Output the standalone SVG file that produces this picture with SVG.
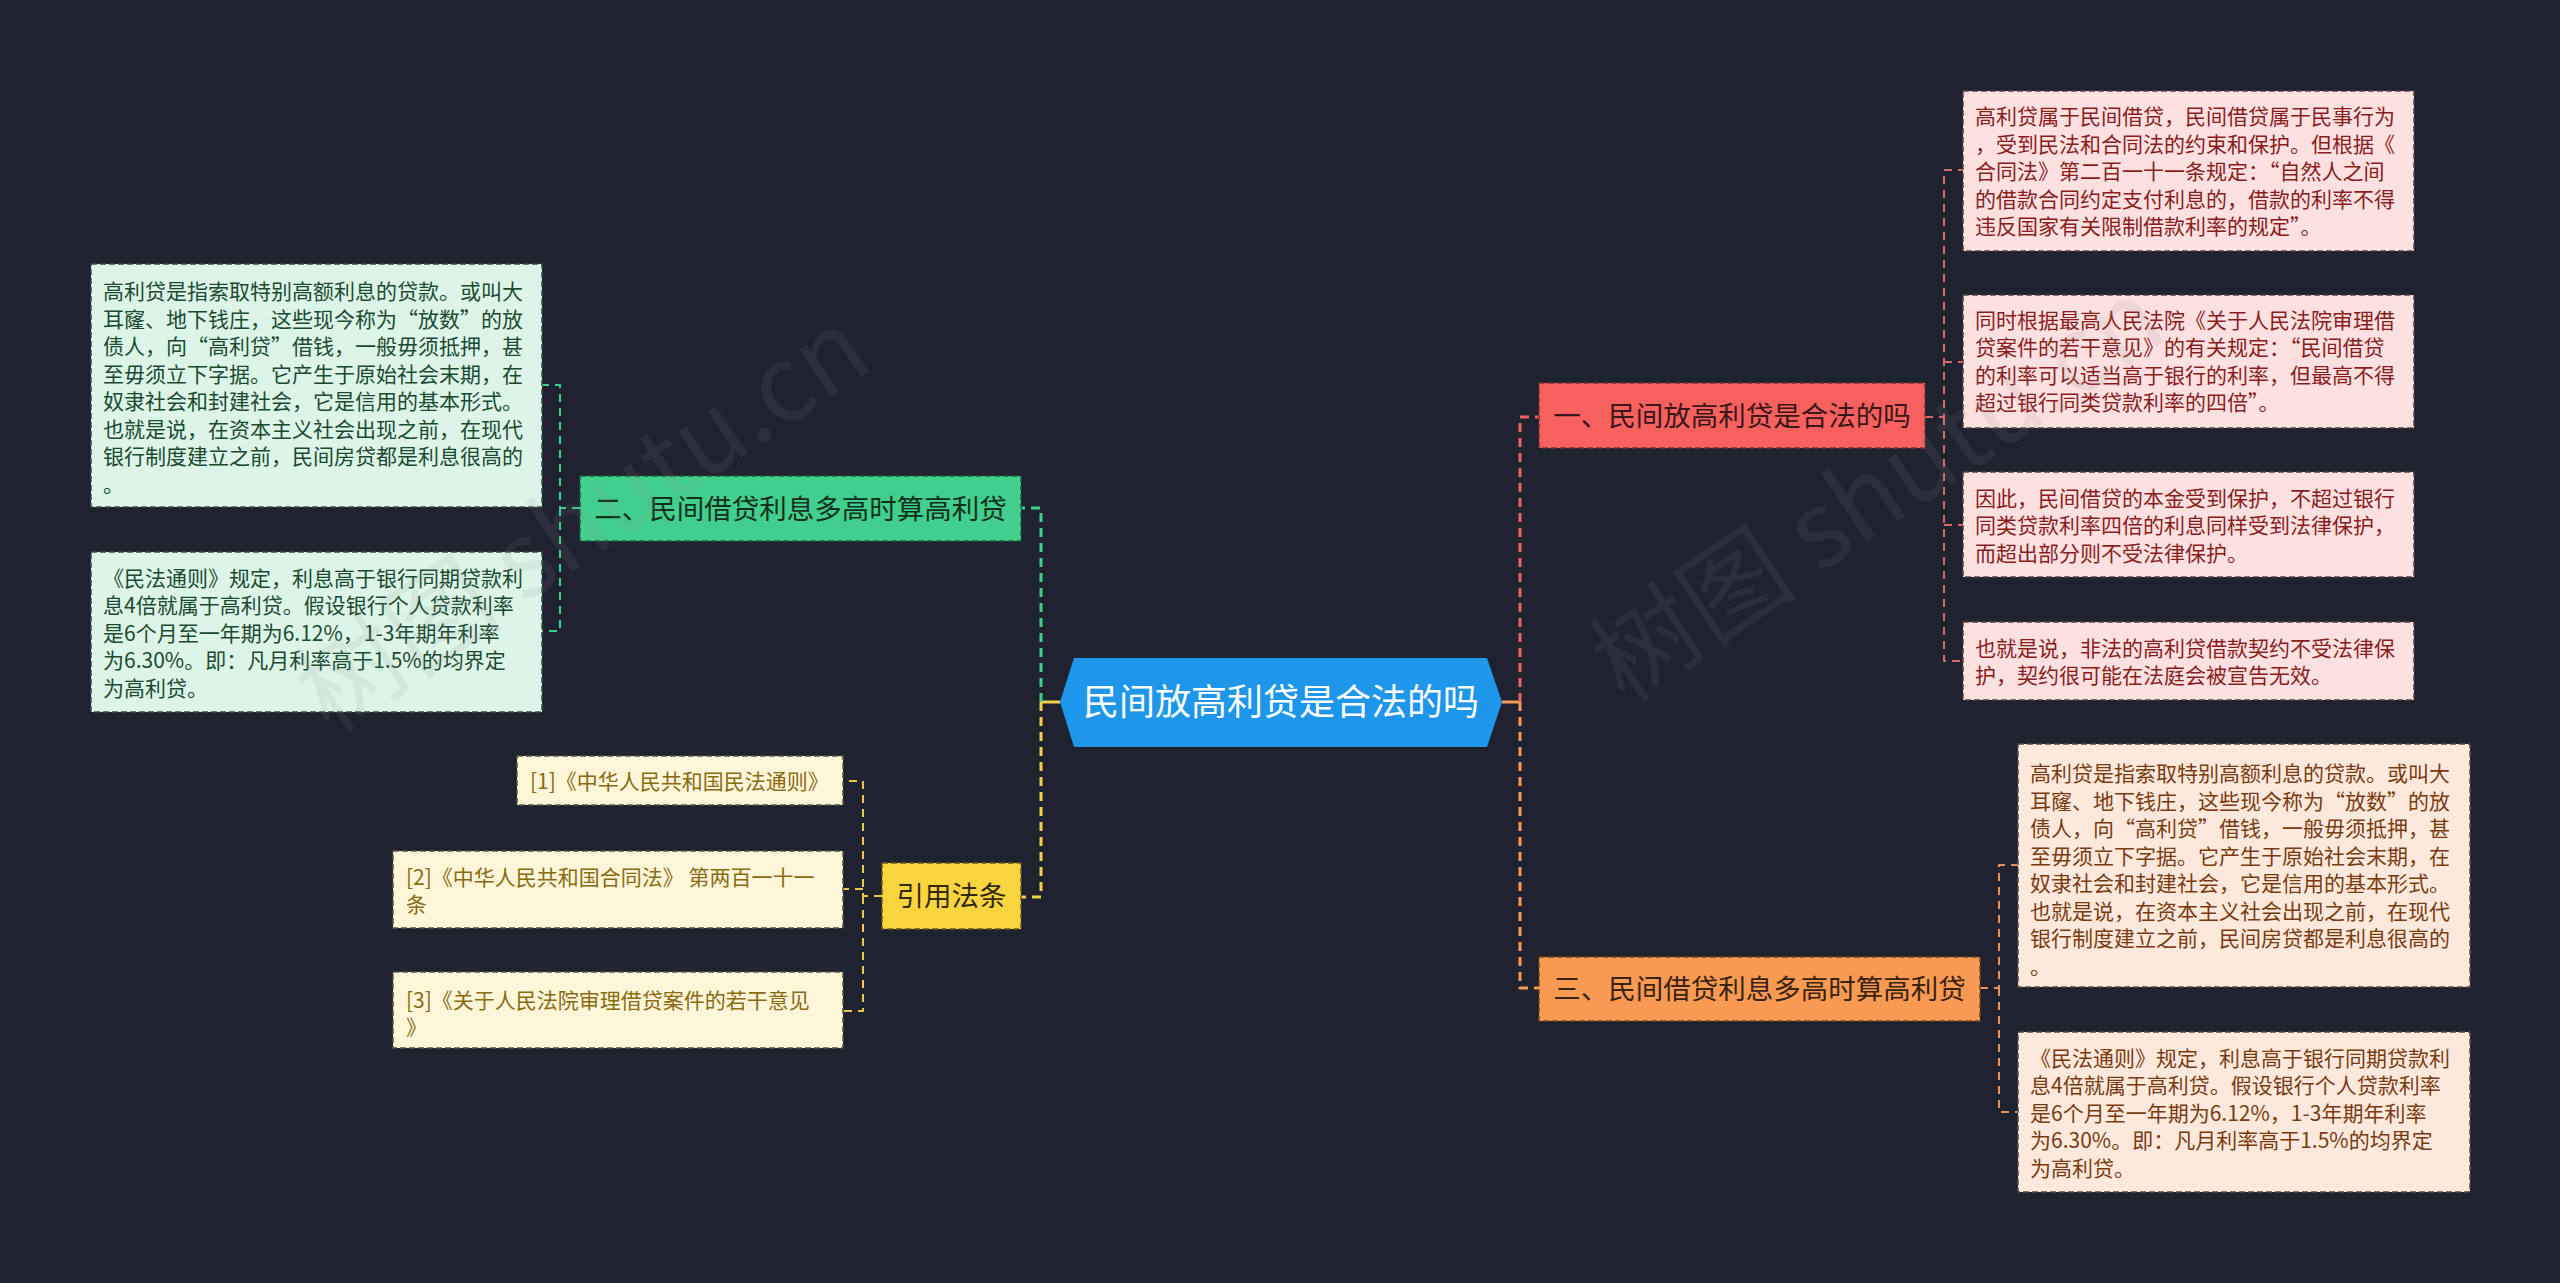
<svg xmlns="http://www.w3.org/2000/svg" width="2560" height="1283" viewBox="0 0 2560 1283">
<style>
text{font-family:"Noto Sans CJK SC","Noto Sans",sans-serif;}
.leaf{font-size:21px;}
.main{font-size:27.5px;}
.box{stroke-width:1.5;stroke-dasharray:6 3;}
.c{fill:none;stroke-linejoin:round;}
.cm{stroke-width:3;stroke-dasharray:9 6;}
.cl{stroke-width:2;stroke-dasharray:8 6;}
.wm{font-size:105px;fill:#8a8a8a;fill-opacity:0.12;}
</style>
<rect x="0" y="0" width="2560" height="1283" fill="#1f2330"/>
<g id="connectors">
<path class="c" d="M1502,702 H1520" stroke="#f79a52" stroke-width="3"/>
<path class="c cm" d="M1520,702 V417 H1539" stroke="#f06060"/>
<path class="c cm" d="M1520,702 V988 H1539" stroke="#f79a52"/>
<path class="c cl" d="M1925,417 H1944 V170 H1963" stroke="#d86a6a"/>
<path class="c cl" d="M1944,417 V661 H1963" stroke="#d86a6a"/>
<path class="c cl" d="M1944,362 H1963" stroke="#d86a6a"/>
<path class="c cl" d="M1944,525 H1963" stroke="#d86a6a"/>
<path class="c cl" d="M1980,988 H1999 V865 H2018" stroke="#e8925a"/>
<path class="c cl" d="M1999,988 V1112 H2018" stroke="#e8925a"/>
<path class="c" d="M1060,702 H1041" stroke="#f5d04a" stroke-width="3"/>
<path class="c cm" d="M1041,702 V508 H1021" stroke="#3ecf8e"/>
<path class="c cm" d="M1041,702 V897 H1021" stroke="#f5d04a"/>
<path class="c cl" d="M580,508 H560 V385 H542" stroke="#3ecf8e"/>
<path class="c cl" d="M560,508 V631 H542" stroke="#3ecf8e"/>
<path class="c cl" d="M882,896 H863 V781 H843" stroke="#e8c84a"/>
<path class="c cl" d="M863,896 V1011 H843" stroke="#e8c84a"/>
<path class="c cl" d="M863,889 H843" stroke="#e8c84a"/>
</g>
<g id="center">
<polygon points="1060,702 1074,658 1487,658 1502,702 1487,747 1074,747" fill="#1e96ea"/>
<text x="1281" y="715" font-size="36" fill="#ffffff" text-anchor="middle">民间放高利贷是合法的吗</text>
</g>
<g id="node1">
<rect class="box" x="1539" y="383" width="386" height="65" fill="#f66160" stroke="#7a3030"/>
<text class="main" x="1732" y="425.5" fill="#3a1616" text-anchor="middle">一、民间放高利贷是合法的吗</text>
</g>
<g id="leaf1a">
<rect class="box" x="1963" y="91" width="451" height="160" fill="#fde1e1" stroke="#5a4040"/>
<text class="leaf" fill="#8a1c1c"><tspan x="1975" y="124">高利贷属于民间借贷，民间借贷属于民事行为</tspan><tspan x="1975" y="151.5">，受到民法和合同法的约束和保护。但根据《</tspan><tspan x="1975" y="179">合同法》第二百一十一条规定：“自然人之间</tspan><tspan x="1975" y="206.5">的借款合同约定支付利息的，借款的利率不得</tspan><tspan x="1975" y="234">违反国家有关限制借款利率的规定”。</tspan></text>
</g>
<g id="leaf1b">
<rect class="box" x="1963" y="295" width="451" height="133" fill="#fde1e1" stroke="#5a4040"/>
<text class="leaf" fill="#8a1c1c"><tspan x="1975" y="327.5">同时根据最高人民法院《关于人民法院审理借</tspan><tspan x="1975" y="355">贷案件的若干意见》的有关规定：“民间借贷</tspan><tspan x="1975" y="382.5">的利率可以适当高于银行的利率，但最高不得</tspan><tspan x="1975" y="410">超过银行同类贷款利率的四倍”。</tspan></text>
</g>
<g id="leaf1c">
<rect class="box" x="1963" y="472" width="451" height="105" fill="#fde1e1" stroke="#5a4040"/>
<text class="leaf" fill="#8a1c1c"><tspan x="1975" y="505.5">因此，民间借贷的本金受到保护，不超过银行</tspan><tspan x="1975" y="533">同类贷款利率四倍的利息同样受到法律保护，</tspan><tspan x="1975" y="560.5">而超出部分则不受法律保护。</tspan></text>
</g>
<g id="leaf1d">
<rect class="box" x="1963" y="622" width="451" height="78" fill="#fde1e1" stroke="#5a4040"/>
<text class="leaf" fill="#8a1c1c"><tspan x="1975" y="655.5">也就是说，非法的高利贷借款契约不受法律保</tspan><tspan x="1975" y="683">护，契约很可能在法庭会被宣告无效。</tspan></text>
</g>
<g id="node3">
<rect class="box" x="1539" y="957" width="441" height="64" fill="#f99a52" stroke="#7a4a20"/>
<text class="main" x="1759.5" y="999" fill="#3a2210" text-anchor="middle">三、民间借贷利息多高时算高利贷</text>
</g>
<g id="leaf3a">
<rect class="box" x="2018" y="744" width="452" height="243" fill="#fde9dc" stroke="#5a4a40"/>
<text class="leaf" fill="#7a3a10"><tspan x="2030" y="781">高利贷是指索取特别高额利息的贷款。或叫大</tspan><tspan x="2030" y="808.5">耳窿、地下钱庄，这些现今称为“放数”的放</tspan><tspan x="2030" y="836">债人，向“高利贷”借钱，一般毋须抵押，甚</tspan><tspan x="2030" y="863.5">至毋须立下字据。它产生于原始社会末期，在</tspan><tspan x="2030" y="891">奴隶社会和封建社会，它是信用的基本形式。</tspan><tspan x="2030" y="918.5">也就是说，在资本主义社会出现之前，在现代</tspan><tspan x="2030" y="946">银行制度建立之前，民间房贷都是利息很高的</tspan><tspan x="2030" y="973.5">。</tspan></text>
</g>
<g id="leaf3b">
<rect class="box" x="2018" y="1032" width="452" height="160" fill="#fde9dc" stroke="#5a4a40"/>
<text class="leaf" fill="#7a3a10"><tspan x="2030" y="1065.5">《民法通则》规定，利息高于银行同期贷款利</tspan><tspan x="2030" y="1093">息4倍就属于高利贷。假设银行个人贷款利率</tspan><tspan x="2030" y="1120.5">是6个月至一年期为6.12%，1-3年期年利率</tspan><tspan x="2030" y="1148">为6.30%。即：凡月利率高于1.5%的均界定</tspan><tspan x="2030" y="1175.5">为高利贷。</tspan></text>
</g>
<g id="node2">
<rect class="box" x="580" y="476" width="441" height="65" fill="#42ce8c" stroke="#1f5a3c"/>
<text class="main" x="800.5" y="518.5" fill="#10301e" text-anchor="middle">二、民间借贷利息多高时算高利贷</text>
</g>
<g id="leaf2a">
<rect class="box" x="91" y="264" width="451" height="243" fill="#dcf5e8" stroke="#3a5044"/>
<text class="leaf" fill="#1a4a30"><tspan x="103" y="299">高利贷是指索取特别高额利息的贷款。或叫大</tspan><tspan x="103" y="326.5">耳窿、地下钱庄，这些现今称为“放数”的放</tspan><tspan x="103" y="354">债人，向“高利贷”借钱，一般毋须抵押，甚</tspan><tspan x="103" y="381.5">至毋须立下字据。它产生于原始社会末期，在</tspan><tspan x="103" y="409">奴隶社会和封建社会，它是信用的基本形式。</tspan><tspan x="103" y="436.5">也就是说，在资本主义社会出现之前，在现代</tspan><tspan x="103" y="464">银行制度建立之前，民间房贷都是利息很高的</tspan><tspan x="103" y="491.5">。</tspan></text>
</g>
<g id="leaf2b">
<rect class="box" x="91" y="552" width="451" height="160" fill="#dcf5e8" stroke="#3a5044"/>
<text class="leaf" fill="#1a4a30"><tspan x="103" y="585.5">《民法通则》规定，利息高于银行同期贷款利</tspan><tspan x="103" y="613">息4倍就属于高利贷。假设银行个人贷款利率</tspan><tspan x="103" y="640.5">是6个月至一年期为6.12%，1-3年期年利率</tspan><tspan x="103" y="668">为6.30%。即：凡月利率高于1.5%的均界定</tspan><tspan x="103" y="695.5">为高利贷。</tspan></text>
</g>
<g id="node4">
<rect class="box" x="882" y="863" width="139" height="66" fill="#fad53f" stroke="#6a5a20"/>
<text class="main" x="951.5" y="906" fill="#33290c" text-anchor="middle">引用法条</text>
</g>
<g id="ref1">
<rect class="box" x="517" y="756" width="326" height="49" fill="#fdf6d8" stroke="#5a5440"/>
<text class="leaf" x="530" y="788.5" fill="#8a6a12">[1]《中华人民共和国民法通则》</text>
</g>
<g id="ref2">
<rect class="box" x="393" y="851" width="450" height="77" fill="#fdf6d8" stroke="#5a5440"/>
<text class="leaf" fill="#8a6a12"><tspan x="406" y="884.5">[2]《中华人民共和国合同法》 第两百一十一</tspan><tspan x="406" y="912">条</tspan></text>
</g>
<g id="ref3">
<rect class="box" x="393" y="972" width="450" height="76" fill="#fdf6d8" stroke="#5a5440"/>
<text class="leaf" fill="#8a6a12"><tspan x="406" y="1007.5">[3]《关于人民法院审理借贷案件的若干意见</tspan><tspan x="406" y="1035">》</tspan></text>
</g>
<g id="watermark">
<text class="wm" x="330" y="735" transform="rotate(-34 330 735)">树图 shutu.cn</text>
<text class="wm" x="1625" y="705" transform="rotate(-34 1625 705)">树图 shutu.cn</text>
</g>
</svg>
